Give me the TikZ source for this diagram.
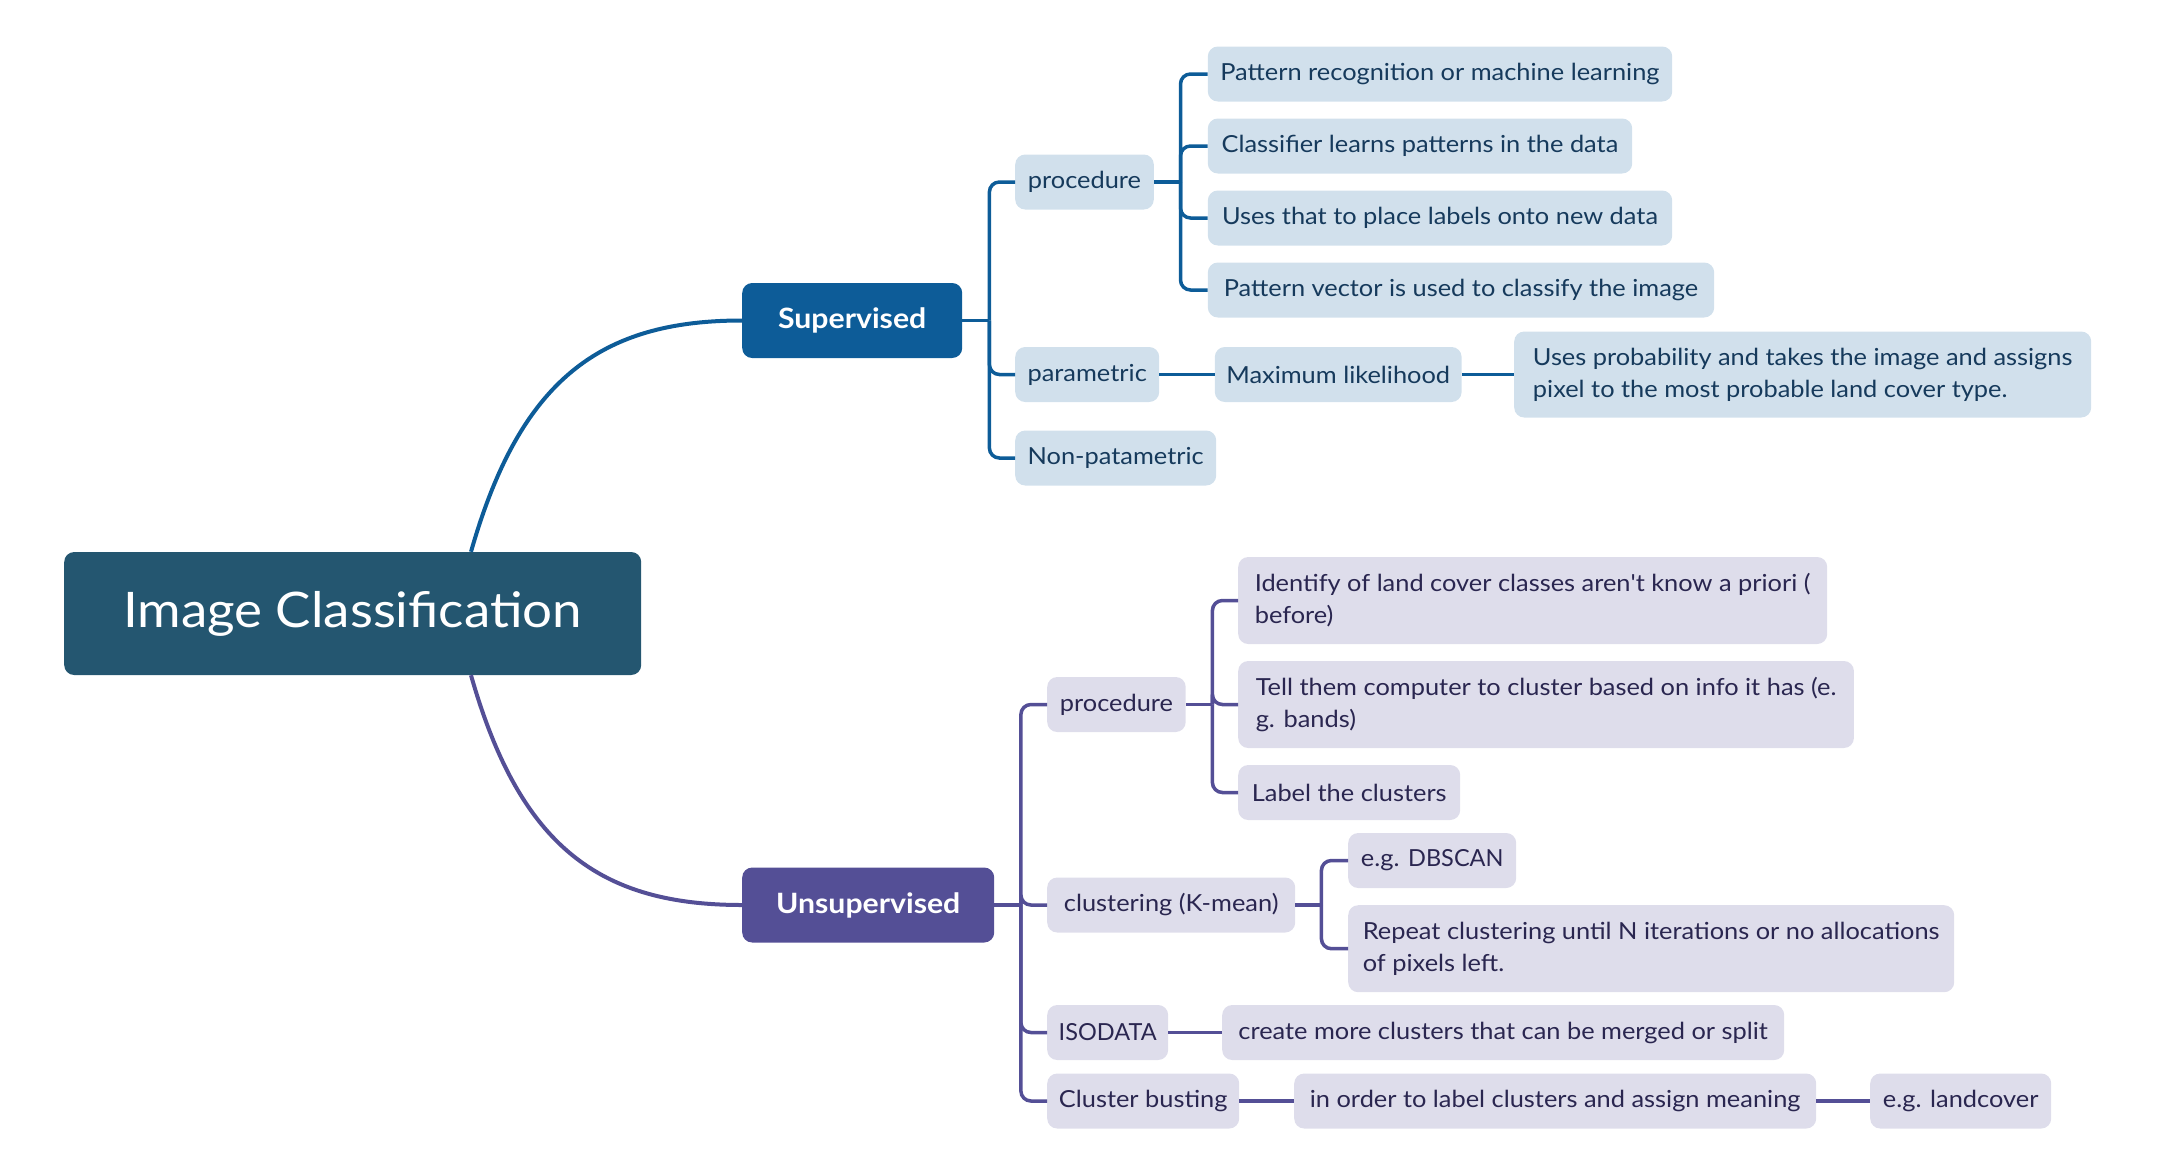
\documentclass[tikz,border=0pt]{standalone}
\usepackage{fontspec}
\setmainfont{Lato}[FakeStretch=1.08]
\newfontfamily\plainlato{Lato}[FakeStretch=1.08]
\newfontfamily\capslato{Lato}
\usetikzlibrary{calc}
\definecolor{rootc}{HTML}{245670}
\definecolor{supc}{HTML}{0D5C98}
\definecolor{sleafc}{HTML}{D1E0EC}
\definecolor{stextc}{HTML}{163A5C}
\definecolor{unsc}{HTML}{544F96}
\definecolor{uleafc}{HTML}{DEDDEB}
\definecolor{utextc}{HTML}{2A2650}
\tikzset{
  box/.style={rounded corners=10pt, inner xsep=11.5pt, inner ysep=0pt, anchor=west, align=left},
  sleaf/.style={box, fill=sleafc, text=stextc, font=\fontsize{23.5}{32}\selectfont, minimum height=55pt},
  uleaf/.style={box, fill=uleafc, text=utextc, font=\fontsize{23.5}{32}\selectfont, minimum height=55pt},
  mainbox/.style={box, align=center, text=white, font=\fontsize{28}{34}\selectfont\bfseries, minimum height=75pt},
  rootbox/.style={box, align=center, fill=rootc, text=white, font=\fontsize{49}{56}\selectfont, minimum height=123pt},
  sline/.style={draw=supc, line width=3.5pt},
  uline/.style={draw=unsc, line width=3.5pt},
  sfork/.style={sline, rounded corners=10pt},
  ufork/.style={uline, rounded corners=10pt}
}
\begin{document}
\begin{tikzpicture}[x=1pt,y=-1pt]
\useasboundingbox (0,0) rectangle (2174,1170);

% root
\node[rootbox, minimum width=577pt] (root) at (64,613.5) {Image Classification};

% main branches
\node[mainbox, fill=supc, minimum width=220pt] (sup) at (742,320.5) {Supervised};
\node[mainbox, fill=unsc, minimum width=252pt] (uns) at (742,905) {Unsupervised};

% supervised children
\node[sleaf, minimum width=138.6pt] (sproc) at (1015,182) {procedure};
\node[sleaf, minimum width=464.4pt] (sl1) at (1207.6,74) {Pattern recognition or machine learning};
\node[sleaf, minimum width=424.4pt] (sl2) at (1207.6,146) {Classifier learns patterns in the data};
\node[sleaf, minimum width=464.4pt] (sl3) at (1207.6,218) {Uses that to place labels onto new data};
\node[sleaf, minimum width=506.4pt] (sl4) at (1207.6,290) {Pattern vector is used to classify the image};
\node[sleaf, minimum width=144pt] (spar) at (1015,374.5) {parametric};
\node[sleaf, minimum width=245.4pt] (smlh) at (1214.6,374.5) {Maximum likelihood};
\node[sleaf, minimum width=577pt, minimum height=86pt] (sprob) at (1514,374.5) {Uses probability and takes the image and assigns\\pixel to the most probable land cover type.};
\node[sleaf, minimum width=201pt] (snon) at (1015,458) {Non-patametric};

% unsupervised children
\node[uleaf, minimum width=138.5pt] (uproc) at (1047,704.5) {procedure};
\node[uleaf, minimum width=589pt, minimum height=87pt] (ul1) at (1238,600.5) {Identify of land cover classes aren{\plainlato\char"27}t know a priori (\\before)};
\node[uleaf, minimum width=615.7pt, minimum height=87pt] (ul2) at (1238,704.5) {Tell them computer to cluster based on info it has (e.\\g. bands)};
\node[uleaf, minimum width=222pt] (ul3) at (1238,792.5) {Label the clusters};
\node[uleaf, minimum width=248pt] (uclu) at (1047,905) {clustering (K-mean)};
\node[uleaf, minimum width=168pt] (udb) at (1348,860.5) {e.g. {\capslato DBSCAN}};
\node[uleaf, minimum width=606pt, minimum height=87pt] (urep) at (1348,948.7) {Repeat clustering until N iterations or no allocations\\of pixels left.};
\node[uleaf, minimum width=120.5pt] (uiso) at (1047,1032.5) {{\capslato ISODATA}};
\node[uleaf, minimum width=562pt] (ucre) at (1222,1032.5) {create more clusters that can be merged or split};
\node[uleaf, minimum width=192pt] (ucb) at (1047,1101) {Cluster busting};
\node[uleaf, minimum width=522pt] (uord) at (1294,1101) {in order to label clusters and assign meaning};
\node[uleaf, minimum width=181pt] (ulc) at (1870,1101) {e.g. landcover};

% root curves
\draw[sline, line width=4pt] ($(root.north west)+(407,0)$) .. controls ($(root.north west)+(456,-172)$) and ($(sup.west)+(-142,0)$) .. (sup.west);
\draw[uline, line width=4pt] ($(root.south west)+(407,0)$) .. controls ($(root.south west)+(456,172)$) and ($(uns.west)+(-142,0)$) .. (uns.west);

% supervised forks
\coordinate (st) at ($(sup.east)+(27,0)$);
\draw[sline] (sup.east) -- (st);
\draw[sfork] (st) |- (sproc.west);
\draw[sfork] (st) |- (spar.west);
\draw[sfork] (st) |- (snon.west);
\coordinate (spt) at ($(sproc.east)+(26.5,0)$);
\draw[sline] (sproc.east) -- (spt);
\draw[sfork] (spt) |- (sl1.west);
\draw[sfork] (spt) |- (sl2.west);
\draw[sfork] (spt) |- (sl3.west);
\draw[sfork] (spt) |- (sl4.west);
\draw[sline] (spar.east) -- (smlh.west);
\draw[sline] (smlh.east) -- (sprob.west);

% unsupervised forks
\coordinate (ut) at ($(uns.east)+(26.5,0)$);
\draw[uline] (uns.east) -- (ut);
\draw[ufork] (ut) |- (uproc.west);
\draw[ufork] (ut) |- (uclu.west);
\draw[ufork] (ut) |- (uiso.west);
\draw[ufork] (ut) |- (ucb.west);
\coordinate (upt) at ($(uproc.east)+(26.5,0)$);
\draw[uline] (uproc.east) -- (upt);
\draw[ufork] (upt) |- (ul1.west);
\draw[ufork] (upt) |- (ul2.west);
\draw[ufork] (upt) |- (ul3.west);
\coordinate (uct) at ($(uclu.east)+(26,0)$);
\draw[uline] (uclu.east) -- (uct);
\draw[ufork] (uct) |- (udb.west);
\draw[ufork] (uct) |- (urep.west);
\draw[uline] (uiso.east) -- (ucre.west);
\draw[uline] (ucb.east) -- (uord.west);
\draw[uline] (uord.east) -- (ulc.west);
\end{tikzpicture}
\end{document}
